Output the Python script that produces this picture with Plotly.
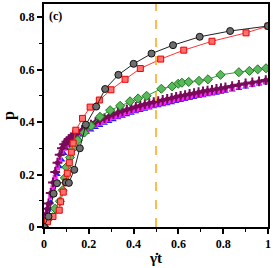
import plotly.graph_objects as go

# Black circles
blk_x = [0, 0.02, 0.043, 0.058, 0.098, 0.111, 0.135, 0.16, 0.187, 0.233, 0.273, 0.332, 0.40, 0.48, 0.576, 0.695, 0.831, 1.0]
blk_y = [0, 0.04, 0.127, 0.167, 0.17, 0.168, 0.218, 0.30, 0.39, 0.459, 0.526, 0.58, 0.622, 0.661, 0.693, 0.725, 0.747, 0.766]

# Red squares
red_x = [0, 0.015, 0.04, 0.068, 0.074, 0.086, 0.098, 0.104, 0.113, 0.122, 0.13, 0.142, 0.172, 0.206, 0.247, 0.299, 0.362, 0.43, 0.521, 0.624, 0.75, 0.902, 1.0]
red_y = [0, 0.02, 0.04, 0.064, 0.096, 0.133, 0.171, 0.205, 0.245, 0.285, 0.32, 0.369, 0.414, 0.457, 0.484, 0.523, 0.563, 0.604, 0.64, 0.674, 0.708, 0.74, 0.766]

# Green diamonds
grn_x = [0, 0.02, 0.05, 0.071, 0.083, 0.093, 0.10, 0.116, 0.13, 0.15, 0.18, 0.21, 0.25, 0.295, 0.34, 0.384, 0.42, 0.458, 0.524, 0.572, 0.599, 0.616, 0.646, 0.692, 0.732, 0.788, 0.87, 0.917, 0.954, 0.991]
grn_y = [0, 0.03, 0.07, 0.098, 0.14, 0.187, 0.228, 0.265, 0.30, 0.33, 0.36, 0.385, 0.42, 0.445, 0.462, 0.479, 0.49, 0.50, 0.527, 0.536, 0.546, 0.55, 0.553, 0.557, 0.563, 0.58, 0.59, 0.595, 0.601, 0.605]

# Dense band: blue triangles, magenta, maroon crosses
band_x = [0, 0.005, 0.01, 0.015, 0.02, 0.03, 0.04, 0.05, 0.06, 0.07, 0.08, 0.09, 0.10, 0.11, 0.12, 0.13,
          0.14, 0.15, 0.17, 0.19, 0.21, 0.23, 0.25, 0.27, 0.29, 0.31, 0.33, 0.35, 0.37, 0.39, 0.41, 0.43,
          0.45, 0.47, 0.49, 0.51, 0.53, 0.55, 0.57, 0.59, 0.61, 0.63, 0.65, 0.67, 0.69, 0.71, 0.73, 0.75,
          0.77, 0.79, 0.81, 0.84, 0.87, 0.90, 0.93, 0.96, 0.99]
mar_y = [0, 0.02, 0.05, 0.07, 0.09, 0.13, 0.17, 0.21, 0.245, 0.275, 0.30, 0.315, 0.325, 0.335, 0.342, 0.35,
         0.355, 0.36, 0.37, 0.38, 0.39, 0.40, 0.408, 0.415, 0.422, 0.43, 0.436, 0.442, 0.448, 0.453, 0.458, 0.463,
         0.468, 0.472, 0.476, 0.48, 0.484, 0.488, 0.492, 0.496, 0.50, 0.503, 0.507, 0.51, 0.514, 0.517, 0.52, 0.523,
         0.526, 0.529, 0.532, 0.537, 0.542, 0.547, 0.551, 0.555, 0.56]
mag_y = [0, 0.015, 0.04, 0.06, 0.08, 0.115, 0.15, 0.19, 0.225, 0.255, 0.28, 0.30, 0.315, 0.325, 0.333, 0.34,
         0.346, 0.351, 0.36, 0.37, 0.378, 0.387, 0.395, 0.402, 0.41, 0.417, 0.423, 0.43, 0.436, 0.441, 0.446, 0.451,
         0.456, 0.46, 0.465, 0.469, 0.473, 0.477, 0.481, 0.485, 0.489, 0.492, 0.496, 0.50, 0.503, 0.506, 0.51, 0.513,
         0.516, 0.52, 0.523, 0.528, 0.534, 0.539, 0.544, 0.549, 0.554]
blu_y = [0, 0.01, 0.03, 0.05, 0.065, 0.095, 0.13, 0.165, 0.2, 0.23, 0.255, 0.28, 0.298, 0.31, 0.32, 0.328,
         0.335, 0.341, 0.351, 0.361, 0.37, 0.379, 0.387, 0.395, 0.402, 0.409, 0.416, 0.422, 0.428, 0.434, 0.439, 0.444,
         0.449, 0.454, 0.458, 0.462, 0.466, 0.47, 0.474, 0.478, 0.482, 0.486, 0.49, 0.494, 0.497, 0.5, 0.504, 0.507,
         0.51, 0.514, 0.517, 0.522, 0.528, 0.534, 0.54, 0.545, 0.55]

x_ticks = [0, 0.2, 0.4, 0.6, 0.8, 1]
x_ticklabels = ["0", "0.2", "0.4", "0.6", "0.8", "1"]
y_ticks = [0, 0.2, 0.4, 0.6, 0.8]
y_ticklabels = ["0", "0.2", "0.4", "0.6", "0.8"]

fig = go.Figure()

fig.add_trace(go.Scatter(x=band_x, y=blu_y, mode="markers",
                         marker=dict(symbol="triangle-up", size=6, color="#1a1aff", line=dict(width=0))))
fig.add_trace(go.Scatter(x=band_x, y=mag_y, mode="markers",
                         marker=dict(symbol="square", size=5, color="#ff22ff", line=dict(width=0))))
fig.add_trace(go.Scatter(x=band_x, y=mar_y, mode="markers",
                         marker=dict(symbol="cross-thin", size=7, color="#7a0a5a", line=dict(width=2, color="#7a0a5a"))))
fig.add_trace(go.Scatter(x=band_x, y=mar_y, mode="markers",
                         marker=dict(symbol="circle", size=5, color="#7a0a5a", line=dict(width=0))))
fig.add_trace(go.Scatter(x=grn_x, y=grn_y, mode="lines+markers",
                         line=dict(color="#2ca02c", width=1),
                         marker=dict(symbol="diamond", size=7, color="#5cb85c", line=dict(width=1, color="#1e7a1e"))))
fig.add_trace(go.Scatter(x=red_x, y=red_y, mode="lines+markers",
                         line=dict(color="#ff3333", width=1),
                         marker=dict(symbol="square", size=6, color="#ff7070", line=dict(width=1, color="#ee0000"))))
fig.add_trace(go.Scatter(x=blk_x, y=blk_y, mode="lines+markers",
                         line=dict(color="#222222", width=1),
                         marker=dict(symbol="circle", size=7, color="#6e6e6e", line=dict(width=1, color="#111111"))))

fig.add_shape(type="line", xref="x", yref="paper", x0=0.5, x1=0.5, y0=0, y1=1,
              line=dict(color="#ffaa22", width=1.6, dash="dash"))

tf = dict(family="Liberation Serif", size=12, color="black", weight="bold")

fig.update_xaxes(range=[0, 1], tickvals=x_ticks, ticktext=x_ticklabels, ticks="outside", ticklen=5,
                 tickwidth=1.5, tickcolor="black", showline=True, linewidth=2, linecolor="black",
                 mirror=True, showgrid=False, zeroline=False, tickfont=tf,
                 minor=dict(ticks="outside", ticklen=3, dtick=0.1, tickcolor="black", tickwidth=1),
                 title=dict(text="γ̇t", font=dict(family="Liberation Serif", size=15, color="black", weight="bold"),
                            standoff=2))
fig.update_yaxes(range=[0, 0.85], tickvals=y_ticks, ticktext=y_ticklabels, ticks="outside", ticklen=5,
                 tickwidth=1.5, tickcolor="black", showline=True, linewidth=2, linecolor="black",
                 mirror=True, showgrid=False, zeroline=False, tickfont=tf,
                 minor=dict(ticks="outside", ticklen=3, dtick=0.1, tickcolor="black", tickwidth=1),
                 title=dict(text="p", font=dict(family="Liberation Serif", size=16, color="black", weight="bold"),
                            standoff=6))

fig.add_annotation(text="(c)", xref="paper", yref="paper", x=0.015, y=0.985, xanchor="left", yanchor="top",
                   showarrow=False, font=dict(family="Liberation Serif", size=12, color="black", weight="bold"))

fig.update_layout(width=273, height=268, margin=dict(l=41, r=5, t=2, b=41),
                  plot_bgcolor="white", paper_bgcolor="white", showlegend=False)

fig.write_html("out.html", config={"displayModeBar": False},
               post_script="document.body.style.margin='0';document.body.style.overflow='hidden';")
